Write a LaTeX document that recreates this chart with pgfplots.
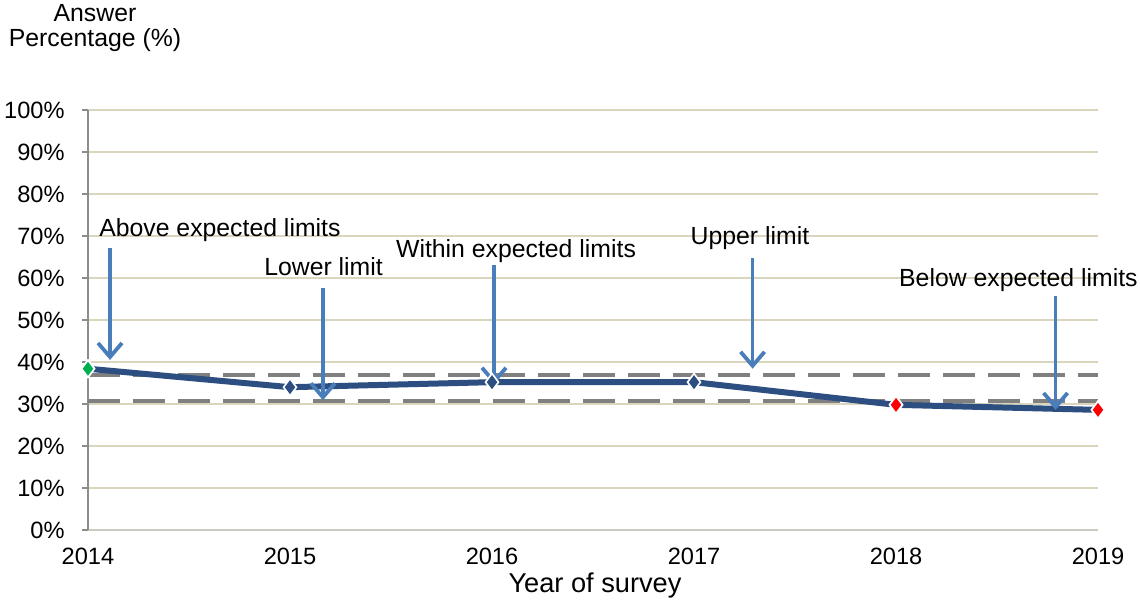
\documentclass[border=0pt]{standalone}
\usepackage{fontspec}
\setmainfont{Liberation Sans}
\usepackage{pgfplots}
\pgfplotsset{compat=1.18}
\usetikzlibrary{arrows.meta}
\definecolor{linecol}{HTML}{2C4E80}
\definecolor{arrowcol}{HTML}{4A7EBB}
\definecolor{gridcol}{HTML}{DAD6BE}
\definecolor{dashcol}{HTML}{808080}
\definecolor{axcol}{HTML}{8C8C8C}
\definecolor{mkgreen}{HTML}{00B050}
\definecolor{mkred}{HTML}{FF0000}
\begin{document}
\begin{tikzpicture}
\useasboundingbox (-44pt,-35pt) rectangle (526pt,265pt);
\begin{axis}[
  at={(0,0)}, anchor=south west,
  scale only axis, width=505pt, height=210pt,
  xmin=2014, xmax=2019, ymin=0, ymax=100,
  clip=false,
  axis x line*=bottom, axis y line*=left,
  axis line style={draw=axcol, line width=0.6pt},
  x axis line style={draw=gridcol!60!gray!70, line width=0.9pt},
  xtick={2014,2015,2016,2017,2018,2019},
  xticklabels={2014,2015,2016,2017,2018,2019},
  ytick={0,10,...,100},
  yticklabels={0\%,10\%,20\%,30\%,40\%,50\%,60\%,70\%,80\%,90\%,100\%},
  xtick style={draw=none},
  ytick style={draw=axcol, line width=0.6pt},
  major tick length=3pt,
  tick align=outside,
  ymajorgrids,
  grid style={draw=gridcol, line width=0.8pt},
  ticklabel style={font=\fontsize{11.8}{13}\selectfont, inner sep=0pt},
  yticklabel style={anchor=east, xshift=-8.5pt},
  xticklabel style={anchor=north, yshift=-6pt},
]
% expected limits
\addplot[dashcol, line width=2pt, dash pattern=on 16pt off 6.5pt, forget plot]
  coordinates {(2014,36.9) (2019,36.9)};
\addplot[dashcol, line width=2pt, dash pattern=on 16pt off 6.5pt, forget plot]
  coordinates {(2014,30.8) (2019,30.8)};
% main line
\addplot[linecol, line width=3pt, mark=diamond*, mark size=4.3pt,
  mark options={fill=linecol, draw=white, line width=0.8pt}]
  coordinates {(2014,38.4) (2015,34.0) (2016,35.2) (2017,35.2) (2018,29.8) (2019,28.6)};
% coloured markers
\addplot[only marks, mark=diamond*, mark size=4.3pt,
  mark options={fill=mkgreen, draw=white, line width=0.8pt}]
  coordinates {(2014,38.4)};
\addplot[only marks, mark=diamond*, mark size=4.3pt,
  mark options={fill=mkred, draw=white, line width=0.8pt}]
  coordinates {(2018,29.8) (2019,28.6)};
% arrows
\pgfplotsset{arr/.style={arrowcol, line width=1.9pt, -{Straight Barb[length=7pt,width=12pt,line width=1.9pt]}}}
\addplot[arr] coordinates {(2014.109,67.1) (2014.109,40.5)};
\addplot[arr] coordinates {(2015.163,57.6) (2015.163,30.9)};
\addplot[arr] coordinates {(2016.01,63.1) (2016.01,34.6)};
\addplot[arr] coordinates {(2017.29,64.8) (2017.29,38.4)};
\addplot[arr] coordinates {(2018.79,55.7) (2018.79,28.6)};
% annotation texts
\begin{scope}[every node/.style={anchor=base, inner sep=0pt, font=\fontsize{12.4}{14}\selectfont}]
\node at (axis cs:2014.653,69.8) {Above expected limits};
\node at (axis cs:2015.166,60.7) {Lower limit};
\node at (axis cs:2016.119,65.0) {Within expected limits};
\node at (axis cs:2017.277,67.9) {Upper limit};
\node at (axis cs:2018.606,57.9) {Below expected limits};
\end{scope}
% axis titles
\node[anchor=base, inner sep=0pt, font=\fontsize{12.4}{14}\selectfont]
  at (rel axis cs:0,1) [xshift=3.5pt, yshift=44pt] {Answer};
\node[anchor=base, inner sep=0pt, font=\fontsize{12.4}{14}\selectfont]
  at (rel axis cs:0,1) [xshift=3.5pt, yshift=31.5pt] {Percentage (\%)};
\node[anchor=base, inner sep=0pt, font=\fontsize{13.6}{15}\selectfont]
  at (rel axis cs:0.5,0) [xshift=1pt, yshift=-31pt] {Year of survey};
\end{axis}
\end{tikzpicture}
\end{document}
